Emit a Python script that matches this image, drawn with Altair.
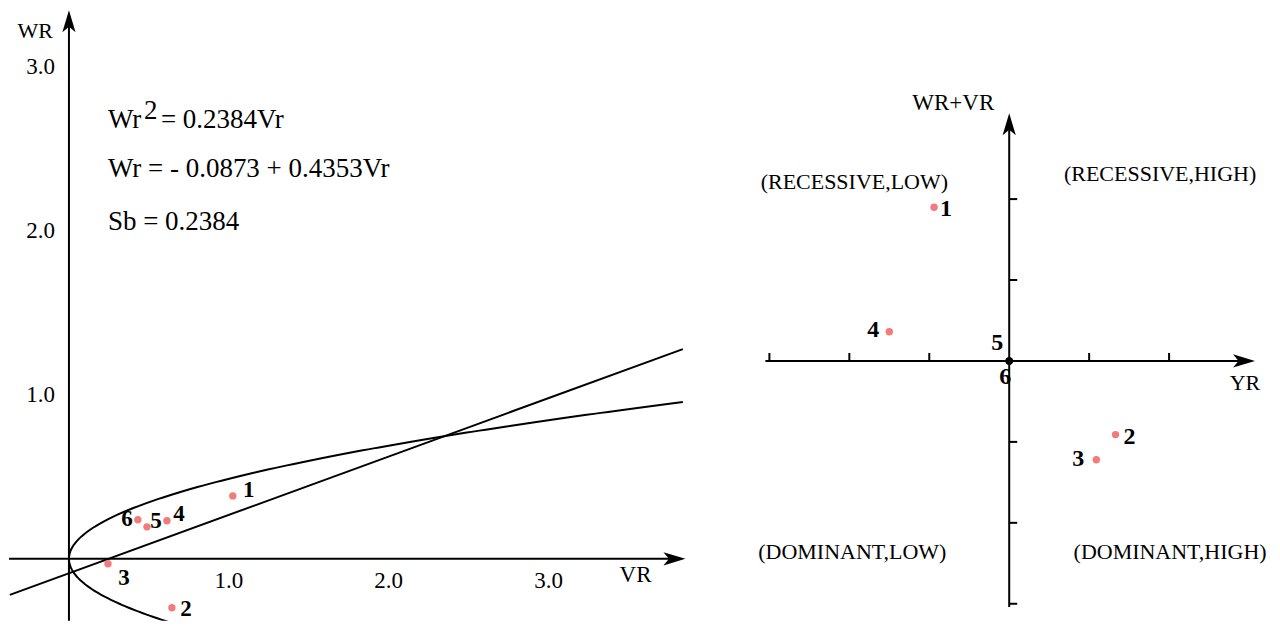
import altair as alt
import numpy as np
import pandas as pd

FONT = "Liberation Serif"
PINK = "#F27B7B"

# ---------------- left panel : Wr / Vr graph ----------------
SB = 0.2384                                   # limiting parabola  Wr^2 = Sb * Vr
gen_ids = ["1", "2", "3", "4", "5", "6"]
vr = [1.025, 0.644, 0.244, 0.613, 0.488, 0.431]
wr = [0.384, -0.299, -0.030, 0.232, 0.195, 0.238]

reg_vr = [-0.37, 3.84]                        # regression line as drawn
reg_wr = [-0.22, 1.28]

left_ticks = [1.0, 2.0, 3.0]
left_tick_text = ["1.0", "2.0", "3.0"]

eq_texts = ["Wr", "2", "= 0.2384Vr", "Wr = - 0.0873 + 0.4353Vr", "Sb = 0.2384"]

# ---------------- right panel : (Wr+Vr) / Yr graph ----------------
yr = [-0.94, 1.33, 1.09, -1.50, 0.0, 0.0]
wr_plus_vr = [1.90, -0.91, -1.22, 0.36, 0.0, 0.0]
right_ticks = [-3, -2, -1, 1, 2]
quadrants = ["(RECESSIVE,LOW)", "(RECESSIVE,HIGH)", "(DOMINANT,LOW)", "(DOMINANT,HIGH)"]

# ---------------- styling ----------------
RIGHT_ARROW = "M0,0L-2,-0.6L-1.5,0L-2,0.6Z"
UP_ARROW = "M0,0L-0.6,2L0,1.5L0.6,2Z"
TICK_UP = "M0,0L0,-2"
TICK_RIGHT = "M0,0L2,0"

XL = alt.Scale(domain=[-0.375, 3.95], nice=False, zero=False)
YL = alt.Scale(domain=[-0.378, 3.36], nice=False, zero=False)
XR = alt.Scale(domain=[-3.3, 3.2875], nice=False, zero=False)
YR = alt.Scale(domain=[-3.21, 4.358], nice=False, zero=False)


def xy(xs, ys, xf="x", yf="y"):
    return dict(x=alt.X(f"{xf}:Q", scale=xs, axis=None),
                y=alt.Y(f"{yf}:Q", scale=ys, axis=None))


def ptext(text, px, py, size=23, align="left", baseline="alphabetic", weight="normal"):
    return alt.Chart(pd.DataFrame({"t": [text]})).mark_text(
        font=FONT, fontSize=size, align=align, baseline=baseline,
        fontWeight=weight, color="black"
    ).encode(x=alt.value(px), y=alt.value(py), text="t:N")


# ----- left panel layers -----
L = []
L.append(alt.Chart(pd.DataFrame({"x": [-0.375], "x2": [3.80], "y": [0.0]})).mark_rule(
    color="black", strokeWidth=2).encode(
    x=alt.X("x:Q", scale=XL, axis=None), x2="x2:Q", y=alt.Y("y:Q", scale=YL, axis=None)))
L.append(alt.Chart(pd.DataFrame({"x": [0.0], "y": [-0.378], "y2": [3.30]})).mark_rule(
    color="black", strokeWidth=2).encode(
    x=alt.X("x:Q", scale=XL, axis=None), y=alt.Y("y:Q", scale=YL, axis=None), y2="y2:Q"))
L.append(alt.Chart(pd.DataFrame({"x": [3.856], "y": [0.0]})).mark_point(
    shape=RIGHT_ARROW, filled=True, color="black", opacity=1, size=484).encode(**xy(XL, YL)))
L.append(alt.Chart(pd.DataFrame({"x": [0.0], "y": [3.348]})).mark_point(
    shape=UP_ARROW, filled=True, color="black", opacity=1, size=484).encode(**xy(XL, YL)))

# limiting parabola Wr^2 = Sb*Vr  (lower branch then upper branch)
t_lo = np.linspace(np.sqrt(0.95), 0, 60)
t_up = np.linspace(0, np.sqrt(3.84), 160)
par = pd.DataFrame({
    "x": np.concatenate([t_lo ** 2, t_up ** 2]),
    "y": np.concatenate([-np.sqrt(SB) * t_lo, np.sqrt(SB) * t_up]),
})
par["o"] = np.arange(len(par))
L.append(alt.Chart(par).mark_line(color="black", strokeWidth=2, clip=True).encode(
    **xy(XL, YL), order="o:Q"))
L.append(alt.Chart(pd.DataFrame({"x": reg_vr, "y": reg_wr})).mark_line(
    color="black", strokeWidth=2, clip=True).encode(**xy(XL, YL)))

ldf = pd.DataFrame({"x": vr, "y": wr, "id": gen_ids})
L.append(alt.Chart(ldf).mark_circle(color=PINK, opacity=1, size=55).encode(**xy(XL, YL)))
left_off = {"1": (16, -6), "2": (14, 1), "3": (16, 14), "4": (12, -7), "5": (9, -6), "6": (-11, -1)}
for g in gen_ids:
    dx, dy = left_off[g]
    L.append(alt.Chart(ldf[ldf["id"] == g]).mark_text(
        font=FONT, fontSize=23, fontWeight="bold", dx=dx, dy=dy, color="black").encode(
        **xy(XL, YL), text="id:N"))

L.append(alt.Chart(pd.DataFrame({"x": left_ticks, "y": [0.0] * 3, "t": left_tick_text})).mark_text(
    font=FONT, fontSize=23, dy=22, baseline="middle", color="black").encode(**xy(XL, YL), text="t:N"))
L.append(alt.Chart(pd.DataFrame({"x": [0.0] * 3, "y": left_ticks, "t": left_tick_text})).mark_text(
    font=FONT, fontSize=23, dx=-14, align="right", baseline="middle", color="black").encode(
    **xy(XL, YL), text="t:N"))

L.append(ptext("WR", 44, 23, size=22, align="right", baseline="middle"))
L.append(ptext("VR", 627, 567, size=23, align="center", baseline="middle"))
L.append(ptext(eq_texts[0], 99, 120, size=27))
L.append(ptext(eq_texts[1], 135, 111, size=27))
L.append(ptext(eq_texts[2], 152, 120, size=27))
L.append(ptext(eq_texts[3], 99, 169, size=27))
L.append(ptext(eq_texts[4], 99, 222, size=27))

left = alt.layer(*L).properties(width=692, height=613)

# ----- right panel layers -----
R = []
R.append(alt.Chart(pd.DataFrame({"x": [-3.05], "x2": [3.0], "y": [0.0]})).mark_rule(
    color="black", strokeWidth=2).encode(
    x=alt.X("x:Q", scale=XR, axis=None), x2="x2:Q", y=alt.Y("y:Q", scale=YR, axis=None)))
R.append(alt.Chart(pd.DataFrame({"x": [0.0], "y": [-3.04], "y2": [3.0]})).mark_rule(
    color="black", strokeWidth=2).encode(
    x=alt.X("x:Q", scale=XR, axis=None), y=alt.Y("y:Q", scale=YR, axis=None), y2="y2:Q"))
R.append(alt.Chart(pd.DataFrame({"x": [3.075], "y": [0.0]})).mark_point(
    shape=RIGHT_ARROW, filled=True, color="black", opacity=1, size=484).encode(**xy(XR, YR)))
R.append(alt.Chart(pd.DataFrame({"x": [0.0], "y": [3.06]})).mark_point(
    shape=UP_ARROW, filled=True, color="black", opacity=1, size=484).encode(**xy(XR, YR)))
R.append(alt.Chart(pd.DataFrame({"x": right_ticks, "y": [0.0] * 5})).mark_point(
    shape=TICK_UP, filled=False, color="black", opacity=1, strokeWidth=2, size=64).encode(**xy(XR, YR)))
R.append(alt.Chart(pd.DataFrame({"x": [0.0] * 5, "y": right_ticks})).mark_point(
    shape=TICK_RIGHT, filled=False, color="black", opacity=1, strokeWidth=2, size=64).encode(**xy(XR, YR)))

rdf = pd.DataFrame({"x": yr, "y": wr_plus_vr, "id": gen_ids})
R.append(alt.Chart(rdf).mark_circle(opacity=1, size=55).encode(
    **xy(XR, YR),
    color=alt.condition((alt.datum.x == 0) & (alt.datum.y == 0), alt.value("black"), alt.value(PINK))))
right_off = {"1": (12, 2), "2": (14, 2), "3": (-18, -1), "4": (-16, -2), "5": (-12, -18), "6": (-4, 16)}
for g in gen_ids:
    dx, dy = right_off[g]
    R.append(alt.Chart(rdf[rdf["id"] == g]).mark_text(
        font=FONT, fontSize=24, fontWeight="bold", dx=dx, dy=dy, color="black").encode(
        **xy(XR, YR), text="id:N"))

R.append(ptext("WR+VR", 249, 95, size=23, align="right", baseline="middle"))
R.append(ptext("YR", 500, 375, size=22, align="center", baseline="middle"))
R.append(ptext(quadrants[0], 109, 174, size=22, align="center", baseline="middle"))
R.append(ptext(quadrants[1], 415, 166, size=22, align="center", baseline="middle"))
R.append(ptext(quadrants[2], 107, 544, size=22, align="center", baseline="middle"))
R.append(ptext(quadrants[3], 425, 544, size=22, align="center", baseline="middle"))

right = alt.layer(*R).properties(width=527, height=613)

chart = alt.hconcat(left, right, spacing=45).properties(
    padding=0, background="white").configure_view(stroke=None)

chart.save("out.html", embed_options={"renderer": "svg", "actions": False})
